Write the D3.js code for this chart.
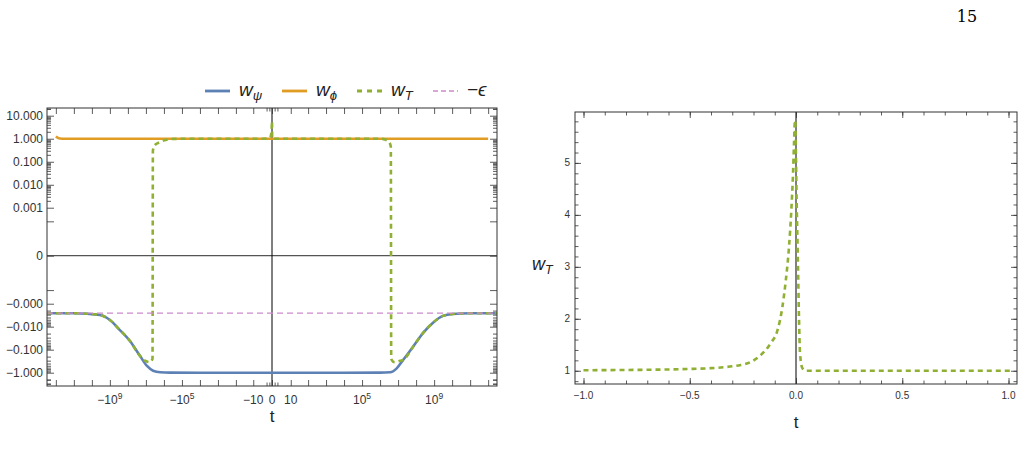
<!DOCTYPE html>
<html>
<head>
<meta charset="utf-8">
<title>w vs t</title>
<script src="https://cdn.jsdelivr.net/npm/d3@7"></script>
<style>
body{margin:0;background:#fff;}
svg{display:block;font-family:"Liberation Sans",Arial,sans-serif;}
</style>
</head>
<body>
<svg width="1024" height="463"></svg>
<script>
// ---------- data ----------
var eps = 0.0026;

// w_psi (left panel)
var psiT = [-3.1e12,-1e11,-3.6e9,-1e9,-2.8e8,-7.7e7,-2.1e7,-8.7e6,-4e6,-1.6e6,-4.6e5,-1e4,0,1e4,1e6,3.6e6,8.4e6,1.9e7,6.8e7,2.4e8,8.7e8,3.1e9,1.1e10,1e11,3.1e12];
var psiW = [-0.0026,-0.0026,-0.0031,-0.0051,-0.014,-0.042,-0.19,-0.51,-0.82,-0.96,-0.99,-1,-1,-1,-0.99,-0.96,-0.645,-0.28,-0.074,-0.019,-0.0067,-0.0034,-0.0028,-0.0026,-0.0026];

// w_phi
var phiT = [-1e12,-6e11,-3e11,0,1e12];
var phiW = [1.25,1.02,1,1,1];

// w_T, far left part
var tFarL = [-3.1e12,-1e11,-3.6e9,-1e9,-2.8e8,-7.7e7,-2.1e7,-1.13e7,-6.0e6,-4.3e6,-4.1e6,-3.6e6,-3.0e6,-2.15e6,-1.29e6,-6e5,-2e5,-1e4,-100,-2];
var wFarL = [-0.0026,-0.0026,-0.0031,-0.0051,-0.014,-0.042,-0.19,-0.3,-0.35,-0.25,0.3,0.45,0.55,0.65,0.8,0.92,0.99,1,1,1.005];
// w_T near t = 0 (also the right panel)
var nearT = [-1,-0.8,-0.6,-0.5,-0.4,-0.3,-0.26,-0.213,-0.166,-0.119,-0.087,-0.064,-0.048,-0.033,-0.022,-0.014,-0.0094,-0.006,-0.004,0.003,0.0094,0.014,0.019,0.03,0.045,0.069,0.3,1.02];
var nearW = [1.01,1.015,1.025,1.035,1.05,1.085,1.11,1.17,1.30,1.53,1.78,2.23,2.74,3.38,4.09,4.80,5.37,5.76,5.82,4.28,3.0,2.04,1.33,1.05,1.0,1.0,1.0,1.0];
// w_T, far right part
var tFarR = [2,100,1e4,2e5,1.29e6,1.9e6,2.76e6,3.58e6,3.95e6,4.15e6,5.2e6,6.6e6,9e6,1.3e7,1.9e7,6.8e7,2.4e8,8.7e8,3.1e9,1.1e10,1e11,3.1e12];
var wFarR = [1,1,1,1,0.99,0.92,0.78,0.6,0.45,-0.25,-0.33,-0.35,-0.33,-0.3,-0.28,-0.074,-0.019,-0.0067,-0.0034,-0.0028,-0.0026,-0.0026];

// -epsilon line
var epsT = [-3.1e12,3.1e12];

// legend
var legendNames = [["w","\u03c8"],["w","\u03d5"],["w","T"],["\u2212\u03f5",""]];
var legendColors = ["#5e81b5","#e19c24","#8fb032","#cc8bcc"];

// ticks, left panel
var xTickVals = [-1e9,-1e5,-10,0,10,1e5,1e9];
var xTickBase = ["\u221210","\u221210","\u221210","0","10","10","10"];
var xTickExp  = ["9","5","","","","5","9"];
var yTickVals = [10,1,0.1,0.01,0.001,0,-0.001,-0.01,-0.1,-1];
var yTickLabels = ["10.000","1.000","0.100","0.010","0.001","0","\u22120.000","\u22120.010","\u22120.100","\u22121.000"];
var yExtraTicks = [0.00025,-0.00025];

// ticks, right panel
var rxTickVals = [-1,-0.5,0,0.5,1];
var rxTickLabels = ["\u22121.0","\u22120.5","0.0","0.5","1.0"];
var ryTickVals = [1,2,3,4,5];

// ---------- layout ----------
var svg = d3.select("svg");
var L = {x0:47, x1:497, y0:108, y1:386};
var R = {x0:575, x1:1017, y0:112, y1:384};
var frameColor = "#333", labelColor = "#333";

var xL = d3.scaleSymlog().constant(1).domain([-3.1e12,3.1e12]).range([L.x0,L.x1]);
var yL = d3.scaleSymlog().constant(8.3e-6).domain([-3.78,21.6]).range([L.y1,L.y0]);
var xR = d3.scaleLinear().domain([-1.04,1.04]).range([R.x0,R.x1]);
var yR = d3.scaleLinear().domain([0.745,5.98]).range([R.y1,R.y0]);

// tick sets
var xDecTicks = [];
for (var k=1;k<=12;k++){ xDecTicks.push(Math.pow(10,k)); xDecTicks.push(-Math.pow(10,k)); }
var xSmallTicks = [-1,-0.4,0.4,1];
var yMinor = [];
for (var k=-3;k<=1;k++){
  for (var m=2;m<=9;m++){
    var v = m*Math.pow(10,k);
    if (v<21) yMinor.push(v);
    if (k<=0 && -v>-3.7) yMinor.push(-v);
  }
}
yMinor.push(20,-2,-3);
var yMajor = yTickVals.concat(yExtraTicks);

function ticks(g, axisFn, scale, vals, len, tx, ty){
  var a = g.append("g").attr("transform","translate("+tx+","+ty+")")
    .call(axisFn(scale).tickValues(vals).tickSize(-len).tickSizeOuter(0).tickFormat(""));
  a.select(".domain").remove();
  a.selectAll("line").attr("stroke",frameColor).attr("stroke-width",0.8);
}

// ---------- left panel ----------
var gl = svg.append("g");
gl.append("defs").append("clipPath").attr("id","clipL").append("rect")
  .attr("x",L.x0).attr("y",L.y0).attr("width",L.x1-L.x0).attr("height",L.y1-L.y0);

var lineL = d3.line().x(d=>xL(d[0])).y(d=>yL(d[1])).curve(d3.curveMonotoneX);
var plotL = gl.append("g").attr("clip-path","url(#clipL)");

// zero lines
plotL.append("line").attr("x1",L.x0).attr("x2",L.x1).attr("y1",yL(0)).attr("y2",yL(0))
  .attr("stroke","#555").attr("stroke-width",1.2);
plotL.append("line").attr("x1",xL(0)).attr("x2",xL(0)).attr("y1",L.y0).attr("y2",L.y1)
  .attr("stroke","#000").attr("stroke-width",1);

var psiData = d3.zip(psiT,psiW);
var phiData = d3.zip(phiT,phiW);
var wTData = d3.zip(tFarL.concat(nearT,tFarR), wFarL.concat(nearW,wFarR));
var epsData = epsT.map(t=>[t,-eps]);

plotL.append("path").datum(psiData).attr("d",lineL).attr("fill","none")
  .attr("stroke",legendColors[0]).attr("stroke-width",2.6);
plotL.append("path").datum(phiData).attr("d",lineL).attr("fill","none")
  .attr("stroke",legendColors[1]).attr("stroke-width",2.6);
plotL.append("path").datum(wTData).attr("d",lineL).attr("fill","none")
  .attr("stroke",legendColors[2]).attr("stroke-width",2.6).attr("stroke-dasharray","5,4");
plotL.append("path").datum(epsData).attr("d",lineL).attr("fill","none")
  .attr("stroke",legendColors[3]).attr("stroke-width",1.3).attr("stroke-dasharray","6,4");

// frame + ticks
gl.append("rect").attr("x",L.x0).attr("y",L.y0).attr("width",L.x1-L.x0).attr("height",L.y1-L.y0)
  .attr("fill","none").attr("stroke",frameColor).attr("stroke-width",1);
[[d3.axisBottom,L.y1],[d3.axisTop,L.y0]].forEach(function(p){
  ticks(gl,p[0],xL,xDecTicks.concat([0]),6,0,p[1]);
  ticks(gl,p[0],xL,xSmallTicks,3.5,0,p[1]);
});
[[d3.axisLeft,L.x0],[d3.axisRight,L.x1]].forEach(function(p){
  ticks(gl,p[0],yL,yMajor,7,p[1],0);
  ticks(gl,p[0],yL,yMinor,4,p[1],0);
});

// y labels
gl.selectAll(".ylab").data(yTickVals).enter().append("text")
  .attr("x",L.x0-4).attr("y",(d)=>yL(d)).attr("dy","0.36em")
  .attr("text-anchor","end").attr("font-size",12).attr("fill",labelColor)
  .text((d,i)=>yTickLabels[i]);
// x labels
var xl = gl.selectAll(".xlab").data(xTickVals).enter().append("text")
  .attr("x",d=>xL(d)).attr("y",L.y1+18).attr("text-anchor","middle")
  .attr("font-size",12).attr("fill",labelColor);
xl.append("tspan").text((d,i)=>xTickBase[i]);
xl.append("tspan").attr("font-size",8.5).attr("dy",-5).text((d,i)=>xTickExp[i]);
gl.append("text").attr("x",xL(0)).attr("y",L.y1+36).attr("text-anchor","middle")
  .attr("font-size",17).attr("fill","#222").text("t");

// legend
var legX = [205,282,357,433];
var leg = svg.append("g").selectAll("g").data(legendNames).enter().append("g")
  .attr("transform",(d,i)=>"translate("+legX[i]+",91)");
leg.append("line").attr("x1",0).attr("x2",25).attr("y1",0).attr("y2",0)
  .attr("stroke",(d,i)=>legendColors[i])
  .attr("stroke-width",(d,i)=>i==3?1.3:2.8)
  .attr("stroke-dasharray",(d,i)=>i==2?"5,5":(i==3?"5,3":null));
var lt = leg.append("text").attr("x",34).attr("y",5).attr("font-size",19)
  .attr("font-style","italic").attr("fill","#222");
lt.append("tspan").text(d=>d[0]);
lt.append("tspan").attr("font-size",13).attr("dy",4).text(d=>d[1]);

// ---------- right panel ----------
var gr = svg.append("g");
gr.append("defs").append("clipPath").attr("id","clipR").append("rect")
  .attr("x",R.x0).attr("y",R.y0).attr("width",R.x1-R.x0).attr("height",R.y1-R.y0);
var plotR = gr.append("g").attr("clip-path","url(#clipR)");
plotR.append("line").attr("x1",xR(0)).attr("x2",xR(0)).attr("y1",R.y0).attr("y2",R.y1)
  .attr("stroke","#000").attr("stroke-width",1);
var lineR = d3.line().x(d=>xR(d[0])).y(d=>yR(d[1])).curve(d3.curveMonotoneX);
plotR.append("path").datum(d3.zip(nearT,nearW)).attr("d",lineR).attr("fill","none")
  .attr("stroke",legendColors[2]).attr("stroke-width",2.6).attr("stroke-dasharray","5,4");

gr.append("rect").attr("x",R.x0).attr("y",R.y0).attr("width",R.x1-R.x0).attr("height",R.y1-R.y0)
  .attr("fill","none").attr("stroke",frameColor).attr("stroke-width",1);
var rxMinor = d3.range(-10,11).map(i=>i/10);
var ryMinor = d3.range(4,30).map(i=>i/5);
[[d3.axisBottom,R.y1],[d3.axisTop,R.y0]].forEach(function(p){
  ticks(gr,p[0],xR,rxTickVals,6,0,p[1]);
  ticks(gr,p[0],xR,rxMinor,3.5,0,p[1]);
});
[[d3.axisLeft,R.x0],[d3.axisRight,R.x1]].forEach(function(p){
  ticks(gr,p[0],yR,ryTickVals,6,p[1],0);
  ticks(gr,p[0],yR,ryMinor,3.5,p[1],0);
});
gr.selectAll(".rxlab").data(rxTickVals).enter().append("text")
  .attr("x",d=>xR(d)).attr("y",R.y1+15).attr("text-anchor","middle")
  .attr("font-size",10).attr("fill",labelColor).text((d,i)=>rxTickLabels[i]);
gr.selectAll(".rylab").data(ryTickVals).enter().append("text")
  .attr("x",R.x0-5).attr("y",d=>yR(d)).attr("dy","0.35em").attr("text-anchor","end")
  .attr("font-size",10).attr("fill",labelColor).text(d=>d);
gr.append("text").attr("x",xR(0)).attr("y",R.y1+44).attr("text-anchor","middle")
  .attr("font-size",17).attr("fill","#222").text("t");
var yt = gr.append("text").attr("x",532).attr("y",270).attr("font-size",18)
  .attr("font-style","italic").attr("fill","#222");
yt.append("tspan").text("w");
yt.append("tspan").attr("font-size",12.5).attr("dy",4).text("T");

// page number
svg.append("text").attr("x",967).attr("y",22).attr("text-anchor","middle")
  .attr("font-family","'DejaVu Serif','Liberation Serif',serif").attr("font-size",16)
  .attr("fill","#000").text("15");
</script>
</body>
</html>
